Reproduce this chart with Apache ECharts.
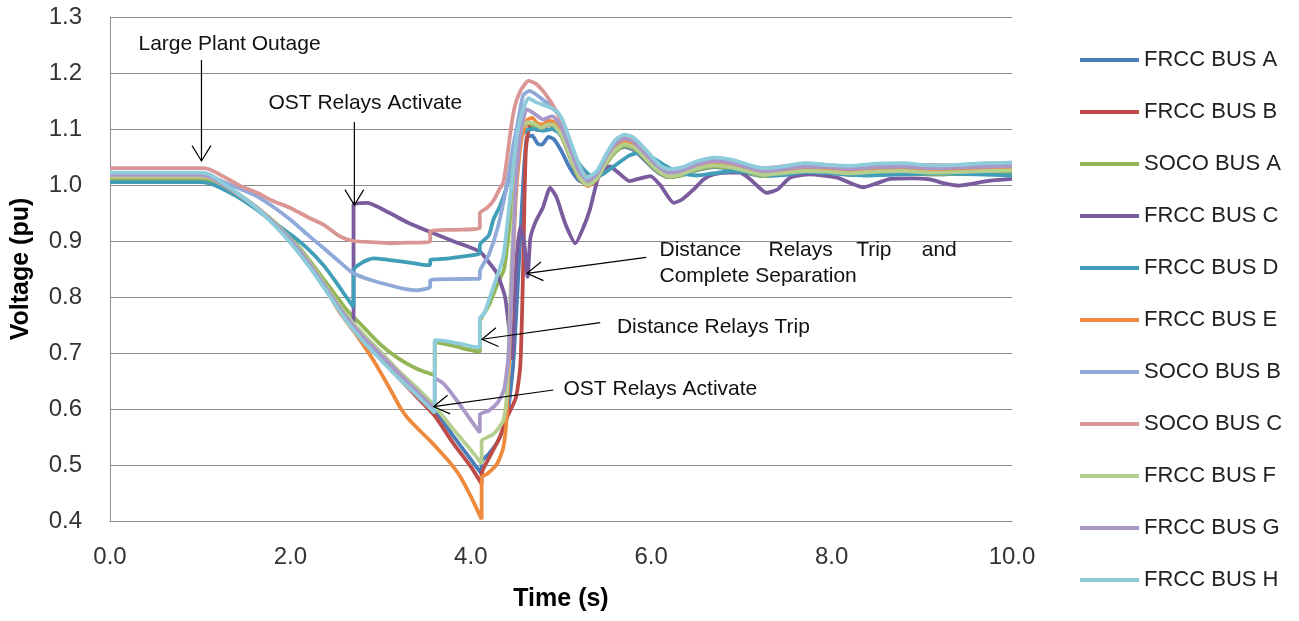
<!DOCTYPE html>
<html>
<head>
<meta charset="utf-8">
<script src="https://cdn.jsdelivr.net/npm/echarts@6/dist/echarts.min.js"></script>
<style>
html,body{margin:0;padding:0;background:#fff;}
#main{width:1299px;height:621px;}
</style>
</head>
<body>
<div id="main"></div>
<script>
// ---- Data (time in s, voltage in pu) ----
const seriesNames = ['FRCC BUS A','FRCC BUS B','SOCO BUS A','FRCC BUS C','FRCC BUS D','FRCC BUS E','SOCO BUS B','SOCO BUS C','FRCC BUS F','FRCC BUS G','FRCC BUS H'];
const xTicks = [0, 2, 4, 6, 8, 10];
const yTicks = [0.4, 0.5, 0.6, 0.7, 0.8, 0.9, 1.0, 1.1, 1.2, 1.3];

const frccBusA = [[0,1.012],[1.0,1.012],[1.1,1.010],[1.2,1.003],[1.4,0.984],[1.6,0.962],[1.8,0.934],[2.0,0.901],[2.2,0.862],[2.4,0.815],[2.6,0.768],[2.8,0.727],[3.0,0.695],[3.2,0.662],[3.4,0.632],[3.6,0.598],[3.8,0.553],[4.0,0.51],[4.12,0.484],[4.12,0.505],[4.2,0.52],[4.3,0.542],[4.4,0.585],[4.47,0.68],[4.53,0.85],[4.58,1.0],[4.62,1.085],[4.68,1.088],[4.74,1.074],[4.79,1.072],[4.86,1.086],[4.92,1.082],[5.0,1.062],[5.1,1.03],[5.2,1.008],[5.3,1.003],[5.4,1.015],[5.5,1.04],[5.6,1.06],[5.7,1.068],[5.8,1.063],[5.9,1.049],[6.0,1.033],[6.1,1.02],[6.2,1.014],[6.35,1.018],[6.5,1.026],[6.7,1.032],[6.9,1.028],[7.1,1.02],[7.25,1.016],[7.45,1.018],[7.7,1.022],[7.95,1.022],[8.2,1.018],[8.5,1.02],[8.8,1.022],[9.1,1.019],[9.4,1.02],[9.7,1.022],[10,1.023]];

const frccBusB = [[0,1.015],[1.0,1.015],[1.1,1.013],[1.2,1.005],[1.4,0.985],[1.6,0.963],[1.8,0.935],[2.0,0.902],[2.2,0.862],[2.4,0.815],[2.6,0.767],[2.8,0.723],[3.0,0.69],[3.2,0.656],[3.4,0.622],[3.6,0.588],[3.8,0.54],[4.0,0.497],[4.12,0.466],[4.12,0.484],[4.2,0.512],[4.32,0.549],[4.4,0.585],[4.5,0.62],[4.55,0.68],[4.58,0.85],[4.61,1.06],[4.66,1.108],[4.74,1.098],[4.8,1.1],[4.86,1.108],[4.92,1.104],[5.0,1.088],[5.1,1.05],[5.2,1.012],[5.3,1.0],[5.4,1.01],[5.5,1.038],[5.6,1.06],[5.7,1.071],[5.8,1.066],[5.9,1.052],[6.0,1.035],[6.1,1.021],[6.2,1.015],[6.35,1.019],[6.5,1.028],[6.7,1.034],[6.9,1.03],[7.1,1.022],[7.25,1.017],[7.45,1.02],[7.7,1.024],[7.95,1.023],[8.2,1.02],[8.5,1.023],[8.8,1.024],[9.1,1.021],[9.4,1.022],[9.7,1.024],[10,1.025]];

const socoBusA = [[0,1.010],[1.0,1.010],[1.1,1.008],[1.2,1.002],[1.4,0.984],[1.6,0.963],[1.8,0.937],[2.0,0.906],[2.2,0.868],[2.4,0.825],[2.6,0.782],[2.7,0.764],[2.8,0.748],[3.0,0.715],[3.2,0.69],[3.4,0.672],[3.55,0.663],[3.6,0.66],[3.6,0.72],[3.8,0.713],[4.0,0.705],[4.1,0.702],[4.1,0.755],[4.2,0.785],[4.3,0.825],[4.37,0.85],[4.43,0.93],[4.5,1.04],[4.58,1.105],[4.65,1.11],[4.75,1.1],[4.85,1.11],[4.92,1.107],[5.0,1.09],[5.1,1.05],[5.2,1.012],[5.3,1.0],[5.4,1.01],[5.5,1.037],[5.6,1.058],[5.7,1.07],[5.8,1.066],[5.9,1.052],[6.0,1.035],[6.1,1.021],[6.2,1.014],[6.35,1.018],[6.5,1.027],[6.7,1.033],[6.9,1.029],[7.1,1.021],[7.25,1.016],[7.45,1.019],[7.7,1.023],[7.95,1.022],[8.2,1.019],[8.5,1.021],[8.8,1.022],[9.1,1.019],[9.4,1.02],[9.7,1.022],[10,1.023]];

const frccBusC = [[0,1.018],[1.0,1.018],[1.1,1.015],[1.2,1.006],[1.4,0.986],[1.6,0.963],[1.8,0.935],[2.0,0.902],[2.2,0.862],[2.4,0.816],[2.6,0.768],[2.7,0.745],[2.7,0.965],[2.85,0.968],[3.1,0.95],[3.3,0.933],[3.55,0.916],[3.8,0.9],[4.1,0.881],[4.2,0.862],[4.29,0.842],[4.38,0.8],[4.44,0.72],[4.46,0.69],[4.5,0.85],[4.55,0.926],[4.59,0.9],[4.63,0.836],[4.66,0.905],[4.72,0.935],[4.8,0.96],[4.88,0.995],[4.95,0.978],[5.05,0.93],[5.16,0.896],[5.25,0.925],[5.32,0.956],[5.43,1.022],[5.54,1.033],[5.65,1.02],[5.76,1.007],[5.88,1.012],[5.99,1.016],[6.1,1.0],[6.25,0.968],[6.35,0.975],[6.47,0.992],[6.58,1.01],[6.69,1.019],[6.85,1.022],[6.98,1.022],[7.1,1.01],[7.28,0.986],[7.4,0.992],[7.54,1.013],[7.76,1.019],[8.06,1.013],[8.2,1.004],[8.35,0.996],[8.5,1.003],[8.65,1.011],[8.9,1.012],[9.09,1.01],[9.25,1.003],[9.42,0.999],[9.55,1.002],[9.72,1.007],[10,1.011]];

const frccBusD = [[0,1.005],[1.0,1.005],[1.1,1.003],[1.2,0.997],[1.4,0.98],[1.6,0.959],[1.8,0.935],[2.0,0.912],[2.2,0.885],[2.37,0.856],[2.5,0.828],[2.62,0.8],[2.7,0.782],[2.7,0.848],[2.8,0.862],[2.92,0.869],[3.1,0.866],[3.3,0.862],[3.5,0.857],[3.55,0.857],[3.55,0.866],[3.7,0.868],[3.9,0.872],[4.1,0.878],[4.1,0.893],[4.2,0.91],[4.25,0.938],[4.33,0.965],[4.4,0.998],[4.47,1.045],[4.55,1.085],[4.62,1.098],[4.7,1.1],[4.8,1.097],[4.9,1.1],[4.97,1.094],[5.05,1.078],[5.15,1.05],[5.25,1.028],[5.35,1.015],[5.45,1.018],[5.6,1.035],[5.75,1.052],[5.85,1.057],[6.0,1.05],[6.15,1.035],[6.3,1.022],[6.5,1.017],[6.7,1.021],[6.9,1.025],[7.1,1.022],[7.3,1.017],[7.5,1.018],[7.7,1.023],[8.0,1.021],[8.4,1.017],[8.8,1.019],[9.2,1.021],[9.6,1.019],[10,1.017]];

const frccBusE = [[0,1.015],[1.0,1.015],[1.1,1.013],[1.2,1.005],[1.4,0.985],[1.6,0.963],[1.8,0.935],[2.0,0.901],[2.2,0.86],[2.4,0.812],[2.55,0.772],[2.72,0.735],[2.92,0.687],[3.1,0.637],[3.22,0.602],[3.3,0.584],[3.4,0.567],[3.55,0.543],[3.66,0.524],[3.78,0.502],[3.88,0.48],[4.0,0.444],[4.12,0.403],[4.12,0.478],[4.18,0.484],[4.29,0.502],[4.36,0.531],[4.4,0.591],[4.45,0.8],[4.5,0.98],[4.56,1.08],[4.62,1.115],[4.68,1.12],[4.74,1.11],[4.8,1.108],[4.86,1.115],[4.92,1.112],[5.0,1.095],[5.1,1.055],[5.2,1.015],[5.3,0.998],[5.4,1.012],[5.5,1.043],[5.6,1.066],[5.7,1.077],[5.8,1.072],[5.9,1.057],[6.0,1.04],[6.1,1.025],[6.2,1.018],[6.35,1.022],[6.5,1.032],[6.7,1.038],[6.9,1.034],[7.1,1.025],[7.25,1.02],[7.45,1.023],[7.7,1.028],[7.95,1.027],[8.2,1.024],[8.5,1.027],[8.8,1.028],[9.1,1.025],[9.4,1.026],[9.7,1.028],[10,1.03]];

const socoBusB = [[0,1.02],[1.0,1.02],[1.1,1.018],[1.2,1.01],[1.4,0.996],[1.63,0.98],[1.8,0.962],[2.0,0.938],[2.2,0.91],[2.37,0.887],[2.55,0.862],[2.7,0.842],[2.9,0.83],[3.1,0.821],[3.25,0.815],[3.4,0.812],[3.55,0.818],[3.55,0.83],[3.8,0.832],[4.1,0.833],[4.1,0.845],[4.2,0.875],[4.3,0.925],[4.4,1.0],[4.47,1.07],[4.52,1.11],[4.58,1.16],[4.65,1.168],[4.72,1.162],[4.8,1.152],[4.9,1.14],[5.0,1.118],[5.1,1.075],[5.2,1.033],[5.3,1.01],[5.4,1.022],[5.5,1.052],[5.6,1.076],[5.7,1.086],[5.8,1.082],[5.9,1.067],[6.0,1.05],[6.1,1.034],[6.2,1.026],[6.35,1.03],[6.5,1.04],[6.7,1.046],[6.9,1.042],[7.1,1.033],[7.25,1.028],[7.45,1.031],[7.7,1.036],[7.95,1.034],[8.2,1.031],[8.5,1.035],[8.8,1.036],[9.1,1.033],[9.4,1.034],[9.7,1.036],[10,1.037]];

const socoBusC = [[0,1.03],[1.0,1.03],[1.1,1.028],[1.26,1.015],[1.45,0.998],[1.63,0.986],[1.8,0.972],[2.0,0.959],[2.2,0.942],[2.37,0.929],[2.55,0.908],[2.7,0.9],[2.9,0.898],[3.1,0.896],[3.3,0.897],[3.55,0.899],[3.55,0.917],[3.8,0.92],[4.1,0.923],[4.1,0.95],[4.18,0.959],[4.25,0.972],[4.32,0.993],[4.36,1.004],[4.4,1.045],[4.44,1.095],[4.48,1.135],[4.55,1.168],[4.64,1.186],[4.72,1.181],[4.8,1.168],[4.9,1.145],[5.0,1.115],[5.1,1.075],[5.2,1.035],[5.3,1.012],[5.4,1.02],[5.5,1.05],[5.6,1.075],[5.7,1.085],[5.8,1.08],[5.9,1.065],[6.0,1.045],[6.1,1.032],[6.2,1.025],[6.35,1.03],[6.5,1.04],[6.7,1.045],[6.9,1.04],[7.1,1.032],[7.25,1.03],[7.45,1.033],[7.7,1.038],[7.95,1.036],[8.2,1.032],[8.5,1.034],[8.8,1.036],[9.1,1.036],[9.4,1.035],[9.7,1.038],[10,1.04]];

const frccBusF = [[0,1.015],[1.0,1.015],[1.1,1.013],[1.2,1.005],[1.4,0.986],[1.6,0.964],[1.8,0.937],[2.0,0.904],[2.2,0.865],[2.4,0.818],[2.6,0.772],[2.8,0.735],[3.0,0.702],[3.2,0.668],[3.4,0.638],[3.6,0.605],[3.8,0.565],[4.0,0.527],[4.12,0.502],[4.12,0.543],[4.25,0.555],[4.36,0.579],[4.4,0.627],[4.45,0.85],[4.5,1.02],[4.56,1.1],[4.62,1.112],[4.7,1.11],[4.78,1.102],[4.86,1.108],[4.92,1.107],[5.0,1.09],[5.1,1.052],[5.2,1.014],[5.3,1.0],[5.4,1.012],[5.5,1.04],[5.6,1.062],[5.7,1.073],[5.8,1.068],[5.9,1.054],[6.0,1.037],[6.1,1.023],[6.2,1.016],[6.35,1.02],[6.5,1.029],[6.7,1.035],[6.9,1.031],[7.1,1.023],[7.25,1.018],[7.45,1.021],[7.7,1.025],[7.95,1.024],[8.2,1.021],[8.5,1.024],[8.8,1.025],[9.1,1.022],[9.4,1.023],[9.7,1.025],[10,1.026]];

const frccBusG = [[0,1.018],[1.0,1.018],[1.1,1.015],[1.2,1.006],[1.4,0.986],[1.6,0.963],[1.8,0.935],[2.0,0.902],[2.2,0.862],[2.4,0.815],[2.6,0.768],[2.8,0.73],[3.0,0.697],[3.2,0.664],[3.4,0.632],[3.6,0.6],[3.6,0.655],[3.7,0.645],[3.8,0.625],[3.9,0.603],[4.0,0.58],[4.1,0.558],[4.1,0.59],[4.2,0.597],[4.3,0.612],[4.37,0.635],[4.42,0.7],[4.46,0.85],[4.5,1.0],[4.56,1.1],[4.62,1.135],[4.7,1.128],[4.8,1.117],[4.9,1.123],[5.0,1.105],[5.1,1.065],[5.2,1.025],[5.3,1.008],[5.4,1.02],[5.5,1.05],[5.6,1.073],[5.7,1.083],[5.8,1.078],[5.9,1.062],[6.0,1.045],[6.1,1.03],[6.2,1.022],[6.35,1.026],[6.5,1.036],[6.7,1.043],[6.9,1.039],[7.1,1.03],[7.25,1.025],[7.45,1.028],[7.7,1.033],[7.95,1.032],[8.2,1.029],[8.5,1.032],[8.8,1.033],[9.1,1.03],[9.4,1.031],[9.7,1.033],[10,1.034]];

const frccBusH = [[0,1.022],[1.0,1.022],[1.1,1.019],[1.2,1.009],[1.4,0.987],[1.6,0.962],[1.8,0.932],[2.0,0.897],[2.2,0.856],[2.4,0.81],[2.6,0.762],[2.8,0.722],[3.0,0.688],[3.2,0.655],[3.4,0.625],[3.6,0.593],[3.6,0.723],[3.7,0.722],[3.8,0.719],[3.9,0.716],[4.0,0.712],[4.1,0.71],[4.1,0.762],[4.15,0.771],[4.25,0.818],[4.36,0.872],[4.43,0.968],[4.51,1.087],[4.58,1.135],[4.64,1.155],[4.72,1.148],[4.84,1.141],[4.95,1.132],[5.02,1.115],[5.1,1.08],[5.2,1.036],[5.28,1.013],[5.4,1.025],[5.5,1.055],[5.6,1.08],[5.7,1.09],[5.8,1.085],[5.9,1.07],[6.0,1.052],[6.1,1.035],[6.2,1.028],[6.35,1.032],[6.5,1.042],[6.7,1.049],[6.9,1.045],[7.1,1.035],[7.25,1.03],[7.45,1.033],[7.7,1.039],[7.95,1.036],[8.2,1.034],[8.5,1.038],[8.8,1.039],[9.1,1.035],[9.4,1.036],[9.7,1.039],[10,1.04]];

// Annotation texts (left-middle anchor, data coords) and arrows (from -> to, data coords)
const annotationTexts = [
  {text:'Large Plant Outage', at:[0.316, 1.2518]},
  {text:'OST Relays Activate', at:[1.756, 1.1464]},
  {text:'Distance', at:[6.092, 0.884]},
  {text:'Relays', at:[7.30, 0.884]},
  {text:'Trip', at:[8.272, 0.884]},
  {text:'and', at:[8.999, 0.884]},
  {text:'Complete Separation', at:[6.092, 0.8363]},
  {text:'Distance Relays Trip', at:[5.62, 0.7452]},
  {text:'OST Relays Activate', at:[5.028, 0.6352]}
];
const annotationArrows = [
  {from:[1.014, 1.2232], to:[1.014, 1.0429]},
  {from:[2.709, 1.1125], to:[2.709, 0.9643]},
  {from:[5.945, 0.8709], to:[4.623, 0.8423]},
  {from:[5.435, 0.7541], to:[4.124, 0.7245]},
  {from:[4.917, 0.6339], to:[3.588, 0.6041]}
];

const seriesData = [frccBusA, frccBusB, socoBusA, frccBusC, frccBusD, frccBusE, socoBusB, socoBusC, frccBusF, frccBusG, frccBusH];
const colors = ['#4A7EBB','#BE4B48','#93B555','#7A5C9E','#409EB8','#EE8A3E','#8FAAD8','#D99694','#B5CF8F','#AA98C8','#8ECBDB'];

const FONT = '"Liberation Sans", Arial, sans-serif';
const chart = echarts.init(document.getElementById('main'), null, {renderer:'canvas'});

chart.setOption({
  animation: false,
  backgroundColor: '#ffffff',
  color: colors,
  grid: {left:110, right:287, top:17, bottom:100, containLabel:false},
  xAxis: {
    type:'value', min:xTicks[0], max:xTicks[xTicks.length-1], interval:2,
    name:'Time (s)', nameLocation:'middle', nameGap:66,
    nameTextStyle:{fontFamily:FONT, fontWeight:'bold', fontSize:25, color:'#000'},
    axisLine:{show:true, lineStyle:{color:'#8c8c8c', width:1}},
    axisTick:{show:false},
    splitLine:{show:false},
    axisLabel:{fontFamily:FONT, fontSize:24, color:'#333', margin:24, formatter:v=>v.toFixed(1)}
  },
  yAxis: {
    type:'value', min:yTicks[0], max:yTicks[yTicks.length-1], interval:0.1,
    name:'Voltage (pu)', nameLocation:'middle', nameGap:76, nameRotate:90,
    nameTextStyle:{fontFamily:FONT, fontWeight:'bold', fontSize:25, color:'#000'},
    axisLine:{show:true, lineStyle:{color:'#8c8c8c', width:1}},
    axisTick:{show:false},
    splitLine:{show:true, lineStyle:{color:'#8c8c8c', width:1}},
    axisLabel:{fontFamily:FONT, fontSize:24, color:'#333', margin:28, formatter:v=>v.toFixed(1)}
  },
  legend: {
    orient:'vertical', left:1080, top:47, padding:0, itemWidth:59, itemHeight:4, itemGap:26,
    icon:'rect', data:seriesNames,
    textStyle:{fontFamily:FONT, fontSize:22, color:'#222', lineHeight:26}
  },
  series: seriesNames.map((n,i)=>({
    name:n, type:'line', data:seriesData[i], showSymbol:false, symbol:'none',
    smooth:0.2,
    lineStyle:{width:3.8, color:colors[i]}, itemStyle:{color:colors[i]}
  }))
});

function px(p){ return chart.convertToPixel({xAxisIndex:0, yAxisIndex:0}, p); }
const graphics = [];
annotationTexts.forEach(a=>{
  const p = px(a.at);
  graphics.push({type:'text', x:p[0], y:p[1], z:100, style:{text:a.text, fontFamily:FONT, fontSize:21, fill:'#111', align:'left', verticalAlign:'middle'}});
});
annotationArrows.forEach(a=>{
  const f = px(a.from), t = px(a.to);
  graphics.push({type:'line', z:100, shape:{x1:f[0],y1:f[1],x2:t[0],y2:t[1]}, style:{stroke:'#000', lineWidth:1.2}});
  const ang = Math.atan2(f[1]-t[1], f[0]-t[0]);
  const L = 18, h = 0.55;
  const p1 = [t[0]+L*Math.cos(ang+h), t[1]+L*Math.sin(ang+h)];
  const p2 = [t[0]+L*Math.cos(ang-h), t[1]+L*Math.sin(ang-h)];
  graphics.push({type:'polyline', z:100, shape:{points:[p1,[t[0],t[1]],p2]}, style:{stroke:'#000', lineWidth:1.2, fill:null}});
});
chart.setOption({graphic: graphics});
</script>
</body>
</html>
